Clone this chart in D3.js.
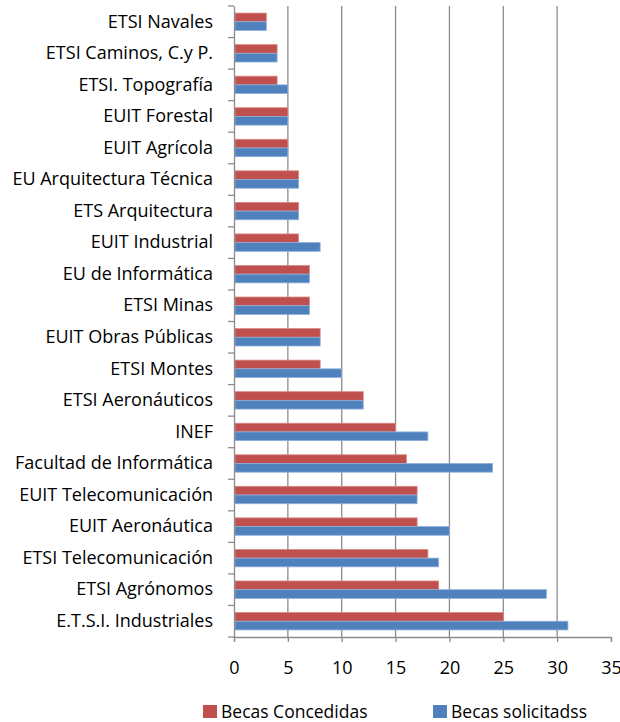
<!DOCTYPE html>
<html>
<head>
<meta charset="utf-8">
<script src="https://cdn.jsdelivr.net/npm/d3@7"></script>
<style>
  body { margin: 0; background: #fff; }
  svg { font-family: "Open Sans", "Noto Sans", sans-serif; }
</style>
</head>
<body>
<svg id="chart"></svg>
<script>
// categories, top to bottom
var categories = [
  "ETSI Navales", "ETSI Caminos, C.y P.", "ETSI. Topografía", "EUIT Forestal",
  "EUIT Agrícola", "EU Arquitectura Técnica", "ETS Arquitectura", "EUIT Industrial",
  "EU de Informática", "ETSI Minas", "EUIT Obras Públicas", "ETSI Montes",
  "ETSI Aeronáuticos", "INEF", "Facultad de Informática", "EUIT Telecomunicación",
  "EUIT Aeronáutica", "ETSI Telecomunicación", "ETSI Agrónomos", "E.T.S.I. Industriales"
];
var concedidas = [3, 4, 4, 5, 5, 6, 6, 6, 7, 7, 8, 8, 12, 15, 16, 17, 17, 18, 19, 25];
var solicitadas = [3, 4, 5, 5, 5, 6, 6, 8, 7, 7, 8, 10, 12, 18, 24, 17, 20, 19, 29, 31];
var seriesNames = ["Becas Concedidas", "Becas solicitadss"];
var xTicks = [0, 5, 10, 15, 20, 25, 30, 35];

var W = 620, H = 722;
var margin = { top: 6, right: 9, bottom: 85, left: 234 };
var width = W - margin.left - margin.right,
    height = H - margin.top - margin.bottom;

var colors = ["#C0504D", "#4F81BD"];

var svg = d3.select("svg#chart")
  .attr("width", W)
  .attr("height", H)
  .append("g")
  .attr("transform", "translate(" + margin.left + "," + margin.top + ")");

var x = d3.scaleLinear().domain([0, 35]).range([0, width]);
var y = d3.scaleBand().domain(categories).range([0, height]);
var inner = d3.scaleBand().domain([0, 1]).range([0, 17.4]);

// gridlines
svg.append("g")
  .selectAll("line")
  .data(xTicks.filter(function (d) { return d > 0 && d < 35; }))
  .enter().append("line")
  .attr("x1", function (d) { return x(d); })
  .attr("x2", function (d) { return x(d); })
  .attr("y1", 0)
  .attr("y2", height)
  .attr("stroke", "#8c8c8c")
  .attr("stroke-width", 1.3);

// bars
var rows = categories.map(function (c, i) {
  return { cat: c, vals: [concedidas[i], solicitadas[i]] };
});

var groups = svg.selectAll(".row")
  .data(rows)
  .enter().append("g")
  .attr("class", "row")
  .attr("transform", function (d) {
    return "translate(0," + (y(d.cat) + y.bandwidth() / 2 - 8.7) + ")";
  });

groups.selectAll("rect")
  .data(function (d) { return d.vals; })
  .enter().append("rect")
  .attr("x", x(0) + 1)
  .attr("y", function (d, i) { return inner(i); })
  .attr("width", function (d) { return x(d) - x(0) - 1; })
  .attr("height", inner.bandwidth())
  .attr("fill", function (d, i) { return colors[i]; })
  .attr("stroke", function (d, i) { return i === 0 ? "#d98a88" : "#8fb0dc"; })
  .attr("stroke-width", 0.8);

// y axis
var yAxis = svg.append("g")
  .call(d3.axisLeft(y).tickSize(0).tickPadding(21));
yAxis.select(".domain").attr("stroke", "#8c8c8c").attr("stroke-width", 1.3);
yAxis.selectAll("text")
  .attr("font-size", 18)
  .attr("font-family", "'Open Sans', sans-serif")
  .attr("fill", "#000");

// y axis boundary ticks
svg.append("g")
  .selectAll("line")
  .data(d3.range(categories.length + 1))
  .enter().append("line")
  .attr("x1", -6)
  .attr("x2", 0)
  .attr("y1", function (i) { return i * y.step(); })
  .attr("y2", function (i) { return i * y.step(); })
  .attr("stroke", "#8c8c8c")
  .attr("stroke-width", 1.3);

// x axis (the last label runs off the right edge, as in the original)
var xAxis = svg.append("g")
  .attr("transform", "translate(0," + height + ")")
  .call(d3.axisBottom(x).tickValues(xTicks).tickSize(5).tickPadding(19));
xAxis.select(".domain").attr("stroke", "#8c8c8c").attr("stroke-width", 1.3);
xAxis.selectAll("line").attr("stroke", "#8c8c8c").attr("stroke-width", 1.3);
xAxis.selectAll("text")
  .attr("font-size", 18)
  .attr("font-family", "'Open Sans', sans-serif")
  .attr("fill", "#000");

// legend
var legendX = [203, 433];
var legend = d3.select("svg#chart").append("g");
seriesNames.forEach(function (name, i) {
  legend.append("rect")
    .attr("x", legendX[i])
    .attr("y", 705)
    .attr("width", 14)
    .attr("height", 13)
    .attr("fill", colors[i]);
  legend.append("text")
    .attr("x", legendX[i] + 18)
    .attr("y", 718)
    .attr("font-size", 17.5)
    .attr("fill", "#000")
    .text(name);
});
</script>
</body>
</html>
